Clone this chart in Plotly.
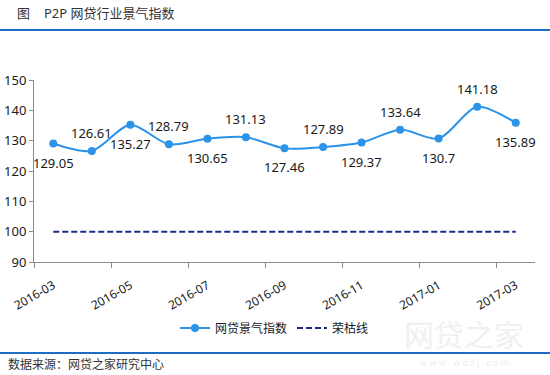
import plotly.graph_objects as go

months = ["2016-03", "2016-04", "2016-05", "2016-06", "2016-07", "2016-08", "2016-09",
          "2016-10", "2016-11", "2016-12", "2017-01", "2017-02", "2017-03"]
index_values = [129.05, 126.61, 135.27, 128.79, 130.65, 131.13, 127.46,
                127.89, 129.37, 133.64, 130.7, 141.18, 135.89]
boom_bust = [100] * len(months)
label_above = [False, True, False, True, False, True, False, True, False, True, False, True, False]
y_ticks = [90, 100, 110, 120, 130, 140, 150]

W, H = 550, 375
L, R, T, B = 34, 15, 80, 113
pw, ph = W - L - R, H - T - B

def px_x(p):
    return (p - L) / pw

def px_y(p):
    return (H - B - p) / ph

xs = list(range(len(months)))
FONT = "Noto Sans, Noto Sans CJK SC, sans-serif"

fig = go.Figure()
fig.add_trace(go.Scatter(
    x=xs, y=index_values, name="网贷景气指数", mode="lines+markers",
    line=dict(color="#2b93e8", width=2, shape="spline", smoothing=0.8),
    marker=dict(color="#2b93e8", size=8),
))
fig.add_trace(go.Scatter(
    x=xs, y=boom_bust, name="荣枯线", mode="lines", xaxis="x2",
    line=dict(color="#1c2a85", width=2, dash="6px,3px"),
))

for i, (v, up) in enumerate(zip(index_values, label_above)):
    fig.add_annotation(x=xs[i], y=v, xref="x", yref="y", text=f"{v:g}",
                       showarrow=False, yshift=18 if up else -19,
                       font=dict(size=13, color="#1a1a1a", family=FONT))

fig.update_layout(
    width=W, height=H, margin=dict(l=L, r=R, t=T, b=B, autoexpand=False),
    paper_bgcolor="white", plot_bgcolor="white",
    font=dict(family=FONT, size=13, color="#1a1a1a"),
    xaxis=dict(range=[-0.5, len(months) - 0.5], tickvals=xs[::2], ticktext=months[::2],
               tickangle=-30, ticks="", showline=True, linecolor="#8c8c8c", linewidth=1,
               showgrid=False, zeroline=False, ticklabelstandoff=11, automargin=False,
               tickfont=dict(size=12, color="#1a1a1a")),
    xaxis2=dict(overlaying="x", anchor="y", side="bottom", automargin=False,
                range=[-0.5, len(months) - 0.5],
                tickvals=[i - 0.5 for i in xs[::2][:-1]] + [xs[-1] - 0.5],
                ticks="outside", ticklen=5, tickcolor="#8c8c8c", showticklabels=False,
                showline=False, showgrid=False, zeroline=False),
    yaxis=dict(range=[90, 150], tickvals=y_ticks, ticks="outside", ticklen=4,
               tickcolor="#8c8c8c", showline=True, linecolor="#8c8c8c", linewidth=1,
               showgrid=False, zeroline=False, automargin=False,
               tickfont=dict(size=13, color="#1a1a1a")),
    legend=dict(orientation="h", x=0.48, xanchor="center", y=px_y(328), yanchor="middle",
                font=dict(size=12, color="#1a1a1a"), itemwidth=30, tracegroupgap=0),
    showlegend=True,
)

# title and decorations
fig.add_annotation(xref="paper", yref="paper", x=px_x(15), y=px_y(13), text="图",
                   showarrow=False, xanchor="left", yanchor="middle",
                   font=dict(size=13, color="#333333", family=FONT))
fig.add_annotation(xref="paper", yref="paper", x=px_x(42), y=px_y(13), text="P2P 网贷行业景气指数",
                   showarrow=False, xanchor="left", yanchor="middle",
                   font=dict(size=13, color="#333333", family=FONT))
fig.add_shape(type="line", xref="paper", yref="paper", x0=px_x(0), x1=px_x(550),
              y0=px_y(30), y1=px_y(30), line=dict(color="#1f6cc4", width=2))
fig.add_shape(type="line", xref="paper", yref="paper", x0=px_x(0), x1=px_x(550),
              y0=px_y(353), y1=px_y(353), line=dict(color="#1f6cc4", width=2))
fig.add_annotation(xref="paper", yref="paper", x=px_x(6), y=px_y(364), text="数据来源：网贷之家研究中心",
                   showarrow=False, xanchor="left", yanchor="middle",
                   font=dict(size=12, color="#333333", family=FONT))
# watermark
fig.add_annotation(xref="paper", yref="paper", x=px_x(464), y=px_y(334), text="网贷之家",
                   showarrow=False, xanchor="center", yanchor="middle",
                   font=dict(size=30, color="#f0f0f0", family=FONT))
fig.add_annotation(xref="paper", yref="paper", x=px_x(464), y=px_y(362), text="w w w . w d z j . c o m",
                   showarrow=False, xanchor="center", yanchor="middle",
                   font=dict(size=9, color="#eeeeee", family=FONT))

fig.write_html("out.html", config={"displayModeBar": False},
               post_script="document.body.style.margin='0px';")
